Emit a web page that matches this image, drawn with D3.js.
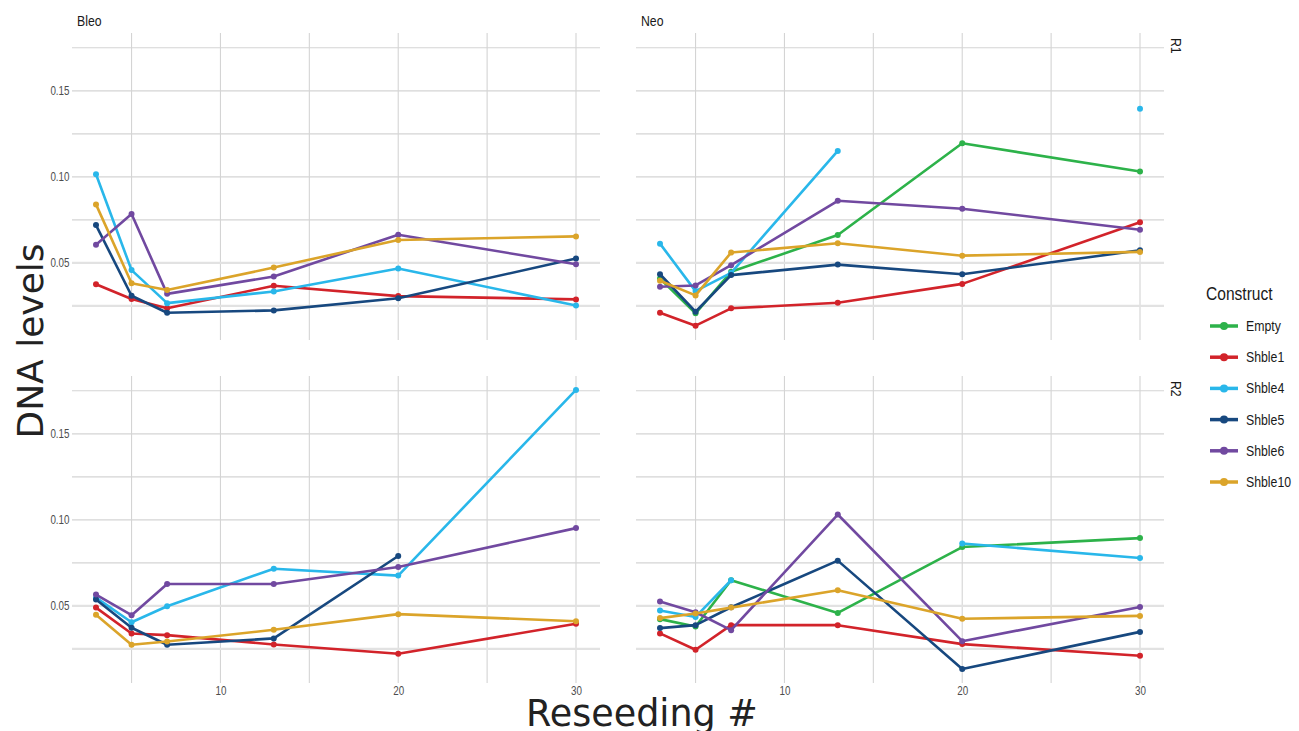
<!DOCTYPE html>
<html>
<head>
<meta charset="utf-8">
<script src="https://cdn.jsdelivr.net/npm/d3@7"></script>
<style>
  html, body { margin: 0; padding: 0; background: #ffffff; }
  svg { display: block; }
</style>
</head>
<body>
<svg id="chart" width="1299" height="731"></svg>
<script>
// ---------------- data ----------------
const reseeding = [3, 5, 7, 13, 20, 30];
const constructs = ["Empty", "Shble1", "Shble4", "Shble5", "Shble6", "Shble10"];
const constructColors = ["#2db24a", "#d2232a", "#29b7ea", "#17487f", "#7149a0", "#dba42a"];
const treatments = ["Bleo", "Neo"];
const replicates = ["R1", "R2"];
const xTicks = [10, 20, 30];
const yTicks = [0.05, 0.10, 0.15];

// values per construct (rows follow `constructs`), columns follow `reseeding`; null = missing
const bleoR1 = [
  null,
  [0.0376, 0.0290, 0.0236, 0.0367, 0.0307, 0.0288],
  [0.1015, 0.0458, 0.0266, 0.0334, 0.0467, 0.0253],
  [0.0720, 0.0309, 0.0210, 0.0224, 0.0295, 0.0525],
  [0.0606, 0.0784, 0.0320, 0.0421, 0.0664, 0.0492],
  [0.0840, 0.0382, 0.0342, 0.0473, 0.0633, 0.0654]
];
const neoR1 = [
  [0.0409, 0.0207, 0.0448, 0.0662, 0.1195, 0.1031],
  [0.0210, 0.0135, 0.0236, 0.0268, 0.0378, 0.0736],
  [0.0612, 0.0336, 0.0442, 0.1151, null, 0.1396],
  [0.0434, 0.0216, 0.0429, 0.0490, 0.0434, 0.0573],
  [0.0361, 0.0369, 0.0487, 0.0861, 0.0815, 0.0693],
  [0.0396, 0.0311, 0.0560, 0.0614, 0.0542, 0.0564]
];
const bleoR2 = [
  null,
  [0.0490, 0.0340, 0.0330, 0.0276, 0.0222, 0.0396],
  [0.0548, 0.0405, 0.0498, 0.0716, 0.0676, 0.1755],
  [0.0537, 0.0373, 0.0274, 0.0311, 0.0790, null],
  [0.0566, 0.0446, 0.0627, 0.0627, 0.0726, 0.0952],
  [0.0448, 0.0274, 0.0293, 0.0361, 0.0452, 0.0411]
];
const neoR2 = [
  [0.0423, 0.0380, 0.0649, 0.0459, 0.0842, 0.0894],
  [0.0340, 0.0245, 0.0388, 0.0388, 0.0278, 0.0210],
  [0.0473, 0.0436, 0.0649, null, 0.0863, 0.0778],
  [0.0371, 0.0388, 0.0492, 0.0763, 0.0133, 0.0349],
  [0.0525, 0.0463, 0.0359, 0.1031, 0.0295, 0.0494],
  [0.0429, 0.0456, 0.0490, 0.0591, 0.0425, 0.0442]
];

// ---------------- layout ----------------
const svg = d3.select("#chart");
const narrow = "'Liberation Sans', Arial, sans-serif";
const squeeze = 0.82; // emulate a narrow face
const big = "'DejaVu Sans', sans-serif";
const gridColor = "#d4d4d4";

const colX = [[72, 600], [636, 1164]];
const rowY = [[340, 33], [683, 376]];

const allVals = [bleoR1, neoR1, bleoR2, neoR2].flat().filter(r => r).flat().filter(v => v != null);
const ymin = d3.min(allVals), ymax = d3.max(allVals);
const ypad = (ymax - ymin) * 0.05;
const xpad = (d3.max(reseeding) - d3.min(reseeding)) * 0.05;
const xDomain = [d3.min(reseeding) - xpad, d3.max(reseeding) + xpad];
const yDomain = [ymin - ypad, ymax + ypad];

const panels = [
  { data: bleoR1, col: 0, row: 0 },
  { data: neoR1, col: 1, row: 0 },
  { data: bleoR2, col: 0, row: 1 },
  { data: neoR2, col: 1, row: 1 }
];

const color = d3.scaleOrdinal().domain(constructs).range(constructColors);

function narrowText(parent, x, y, txt, size, fill, anchor, rot) {
  return parent.append("text")
    .attr("transform", `translate(${x},${y})${rot ? ` rotate(${rot})` : ""} scale(${squeeze},1)`)
    .attr("font-family", narrow).attr("font-size", size).attr("fill", fill)
    .attr("text-anchor", anchor || "start").text(txt);
}

panels.forEach(p => {
  const x = d3.scaleLinear().domain(xDomain).range(colX[p.col]);
  const y = d3.scaleLinear().domain(yDomain).range(rowY[p.row]);
  const g = svg.append("g");
  const [x0, x1] = colX[p.col];
  const [yb, yt] = rowY[p.row];

  const xGrid = d3.range(5, 31, 5);
  const yGrid = d3.range(0.025, 0.1801, 0.025);
  g.selectAll(".vg").data(xGrid).join("line")
    .attr("x1", d => x(d)).attr("x2", d => x(d))
    .attr("y1", yt).attr("y2", yb)
    .attr("stroke", gridColor).attr("stroke-width", 1.1);
  g.selectAll(".hg").data(yGrid).join("line")
    .attr("x1", x0).attr("x2", x1)
    .attr("y1", d => y(d)).attr("y2", d => y(d))
    .attr("stroke", gridColor).attr("stroke-width", 1.1);
  g.selectAll(".ref").data([0.025, 0.05]).join("line")
    .attr("x1", x0).attr("x2", x1)
    .attr("y1", d => y(d)).attr("y2", d => y(d))
    .attr("stroke", "#e2e2e2").attr("stroke-width", 2.4);

  if (p.col === 0) {
    const ya = d3.axisLeft(y).tickValues(yTicks).tickFormat(d3.format(".2f")).tickSize(0).tickPadding(3);
    const ag = g.append("g").attr("transform", `translate(${x0},0)`).call(ya);
    ag.select(".domain").remove();
    ag.selectAll("text").attr("font-family", narrow).attr("font-size", 12).attr("fill", "#4d4d4d")
      .attr("transform", `scale(${squeeze},1)`);
  }
  if (p.row === 1) {
    const xa = d3.axisBottom(x).tickValues(xTicks).tickFormat(d3.format("d")).tickSize(0).tickPadding(3);
    const ag = g.append("g").attr("transform", `translate(0,${yb})`).call(xa);
    ag.select(".domain").remove();
    ag.selectAll("text").attr("font-family", narrow).attr("font-size", 12).attr("fill", "#4d4d4d")
      .attr("transform", `scale(${squeeze},1)`);
  }

  const line = d3.line()
    .defined(d => d.v != null)
    .x(d => x(d.x)).y(d => y(d.v));

  constructs.forEach((c, ci) => {
    const row = p.data[ci];
    if (!row) return;
    const pts = reseeding.map((xv, i) => ({ x: xv, v: row[i] }));
    g.append("path").datum(pts)
      .attr("d", line)
      .attr("fill", "none")
      .attr("stroke", color(c))
      .attr("stroke-width", 2.6)
      .attr("stroke-linejoin", "round");
    g.selectAll(null).data(pts.filter(d => d.v != null)).join("circle")
      .attr("cx", d => x(d.x)).attr("cy", d => y(d.v))
      .attr("r", 3).attr("fill", color(c));
  });
});

// strip labels
treatments.forEach((t, i) => {
  narrowText(svg, colX[i][0] + 5, 26, t, 15, "#1a1a1a");
});
replicates.forEach((r, i) => {
  narrowText(svg, 1171, rowY[i][1] + 5, r, 15, "#1a1a1a", "start", 90);
});

// axis titles
svg.append("text").attr("transform", "translate(43,341) rotate(-90)")
  .attr("text-anchor", "middle").attr("font-family", big).attr("font-size", 36)
  .attr("fill", "#222").text("DNA levels");
svg.append("text").attr("x", 642).attr("y", 726)
  .attr("text-anchor", "middle").attr("font-family", big).attr("font-size", 36.5)
  .attr("fill", "#222").text("Reseeding #");

// legend
const lg = svg.append("g");
narrowText(lg, 1206, 300, "Construct", 19, "#1a1a1a");
constructs.forEach((c, i) => {
  const yy = 326 + i * 31.2;
  lg.append("line").attr("x1", 1210).attr("x2", 1238).attr("y1", yy).attr("y2", yy)
    .attr("stroke", color(c)).attr("stroke-width", 3.5);
  lg.append("circle").attr("cx", 1224).attr("cy", yy).attr("r", 4).attr("fill", color(c));
  narrowText(lg, 1246, yy + 5, c, 15, "#1a1a1a");
});
</script>
</body>
</html>
